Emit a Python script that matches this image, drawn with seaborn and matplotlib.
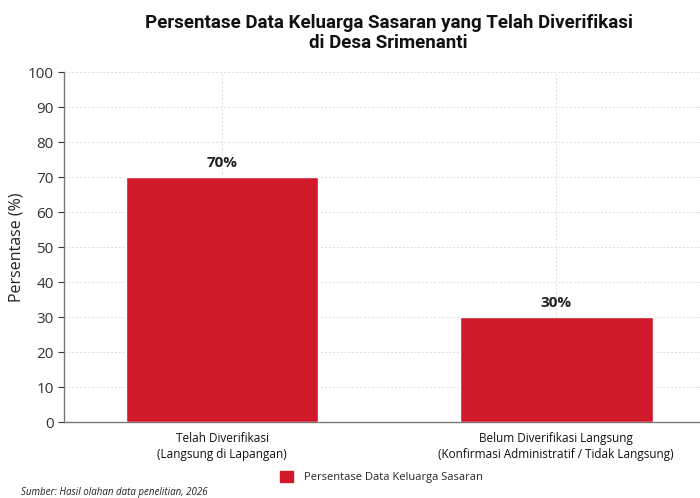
import numpy as np
import pandas as pd
import matplotlib
matplotlib.use("Agg")
import matplotlib.pyplot as plt
import seaborn as sns
from matplotlib.patches import Patch

categories = ["Telah Diverifikasi\n(Langsung di Lapangan)",
              "Belum Diverifikasi Langsung\n(Konfirmasi Administratif / Tidak Langsung)"]
values = [70, 30]
series_name = "Persentase Data Keluarga Sasaran"
yticks = list(range(0, 101, 10))

BAR_COLOR = "#D0192A"

sns.set_theme(style="white")
plt.rcParams["font.family"] = ["Open Sans", "DejaVu Sans"]

df = pd.DataFrame({"kategori": categories, "persen": values})

fig = plt.figure(figsize=(7.0, 4.98), dpi=100)
ax = fig.add_axes([0.0914, 0.1526, 0.9086, 0.7028])

sns.barplot(data=df, x="kategori", y="persen", color=BAR_COLOR, width=0.577,
            saturation=1, ax=ax, zorder=3)

ax.set_xlim(-0.473, 1.43)
ax.set_ylim(0, 100)
ax.set_yticks(yticks)
ax.tick_params(axis="y", labelsize=11, colors="#333333", length=4, width=0.8, left=True)
ax.tick_params(axis="x", labelsize=8.5, colors="#111111", length=0, pad=7)
for lbl in ax.get_xticklabels():
    lbl.set_linespacing(1.35)
ax.grid(True, axis="both", linestyle=(0, (2, 2)), color="#dddddd", linewidth=0.7, zorder=0)
for s in ["top", "right"]:
    ax.spines[s].set_visible(False)
for s in ["left", "bottom"]:
    ax.spines[s].set_color("#777777")
    ax.spines[s].set_linewidth(1.0)

ax.set_xlabel("")
ax.set_ylabel("")
fig.text(17 / 700, 1 - 247 / 498, "Persentase (%)", rotation=90, ha="center", va="center",
         fontsize=11.5, color="#222222")

for i, v in enumerate(values):
    ax.text(i, v + 2, f"{v}%", ha="center", va="bottom", fontsize=11,
            fontweight="bold", color="#222222")

fig.text(0.555, 0.972, "Persentase Data Keluarga Sasaran yang Telah Diverifikasi\ndi Desa Srimenanti",
         ha="center", va="top", fontsize=13.5, fontweight="bold",
         family=["Roboto", "DejaVu Sans"], color="#111111", linespacing=1.15)

handles = [Patch(facecolor=BAR_COLOR, edgecolor=BAR_COLOR, label=series_name)]
fig.legend(handles=handles, loc="center", bbox_to_anchor=(0.545, 0.042), frameon=False,
           fontsize=8, handlelength=1.2, handleheight=1.2, handletextpad=1.0)

fig.text(0.03, 0.012, "Sumber: Hasil olahan data penelitian, 2026", ha="left", va="center",
         fontsize=7, style="italic", color="#222222")

fig.savefig("out.png", dpi=100)
